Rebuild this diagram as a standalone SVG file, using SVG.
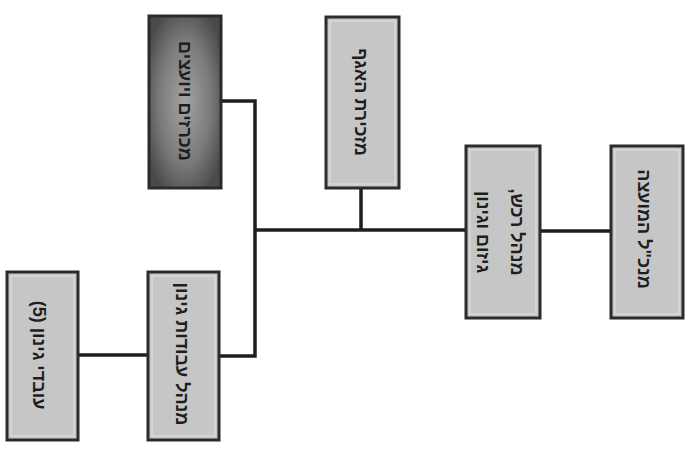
<svg xmlns="http://www.w3.org/2000/svg" width="692" height="450" viewBox="0 0 692 450">
<defs>
<radialGradient id="dark" cx="0.5" cy="0.5" r="0.6">
<stop offset="0" stop-color="#a4a4a4"/>
<stop offset="0.6" stop-color="#7a7a7a"/>
<stop offset="1" stop-color="#4a4a4a"/>
</radialGradient>
<style>
.box{fill:#c6c6c6;stroke:#2b2b2b;stroke-width:3}
.dk{fill:url(#dark);stroke:#2b2b2b;stroke-width:3}
.in{fill:none;stroke:#e2e2e2;stroke-width:1}
.t{font-family:"Liberation Sans","DejaVu Sans",sans-serif;font-weight:bold;font-size:18px;fill:#1e1e1e;text-anchor:middle;dominant-baseline:central;direction:rtl}
.ln{fill:none;stroke:#1e1e1e;stroke-width:3.5}
</style>
</defs>
<rect width="692" height="450" fill="#ffffff"/>
<g id="connectors">
<polyline class="ln" points="221,101 255,101 255,356 219,356"/>
<line class="ln" x1="255" y1="230" x2="466" y2="230"/>
<line class="ln" x1="361" y1="188" x2="361" y2="230"/>
<line class="ln" x1="540" y1="231" x2="611" y2="231"/>
<line class="ln" x1="78" y1="355" x2="148" y2="355"/>
</g>
<g id="n-tenders">
<rect class="dk" x="149" y="16" width="72" height="172"/>
<text class="t" transform="translate(185,101) rotate(90)">מכרזים ויועצים</text>
</g>
<g id="n-secretary">
<rect class="box" x="326" y="17" width="73" height="171"/>
<rect class="in" x="330" y="21" width="65" height="163"/>
<text class="t" transform="translate(361,102) rotate(90)">מזכירת האגף</text>
</g>
<g id="n-manager">
<rect class="box" x="466" y="146" width="74" height="172"/>
<rect class="in" x="470" y="150" width="66" height="164"/>
<text class="t" transform="translate(517,232) rotate(90)">מנהל רכש,</text>
<text class="t" transform="translate(483,232) rotate(90)">גיזום וגינון</text>
</g>
<g id="n-ceo">
<rect class="box" x="611" y="146" width="72" height="172"/>
<rect class="in" x="615" y="150" width="64" height="164"/>
<text class="t" transform="translate(644,229) rotate(90)">מנכ"ל המועצה</text>
</g>
<g id="n-works">
<rect class="box" x="148" y="272" width="71" height="168"/>
<rect class="in" x="152" y="276" width="63" height="160"/>
<text class="t" transform="translate(182,354) rotate(90)">מנהל עבודות גינון</text>
</g>
<g id="n-workers">
<rect class="box" x="7" y="272" width="71" height="168"/>
<rect class="in" x="11" y="276" width="63" height="160"/>
<text class="t" transform="translate(39,355) rotate(90)">עובדי גינון (5)</text>
</g>
</svg>
